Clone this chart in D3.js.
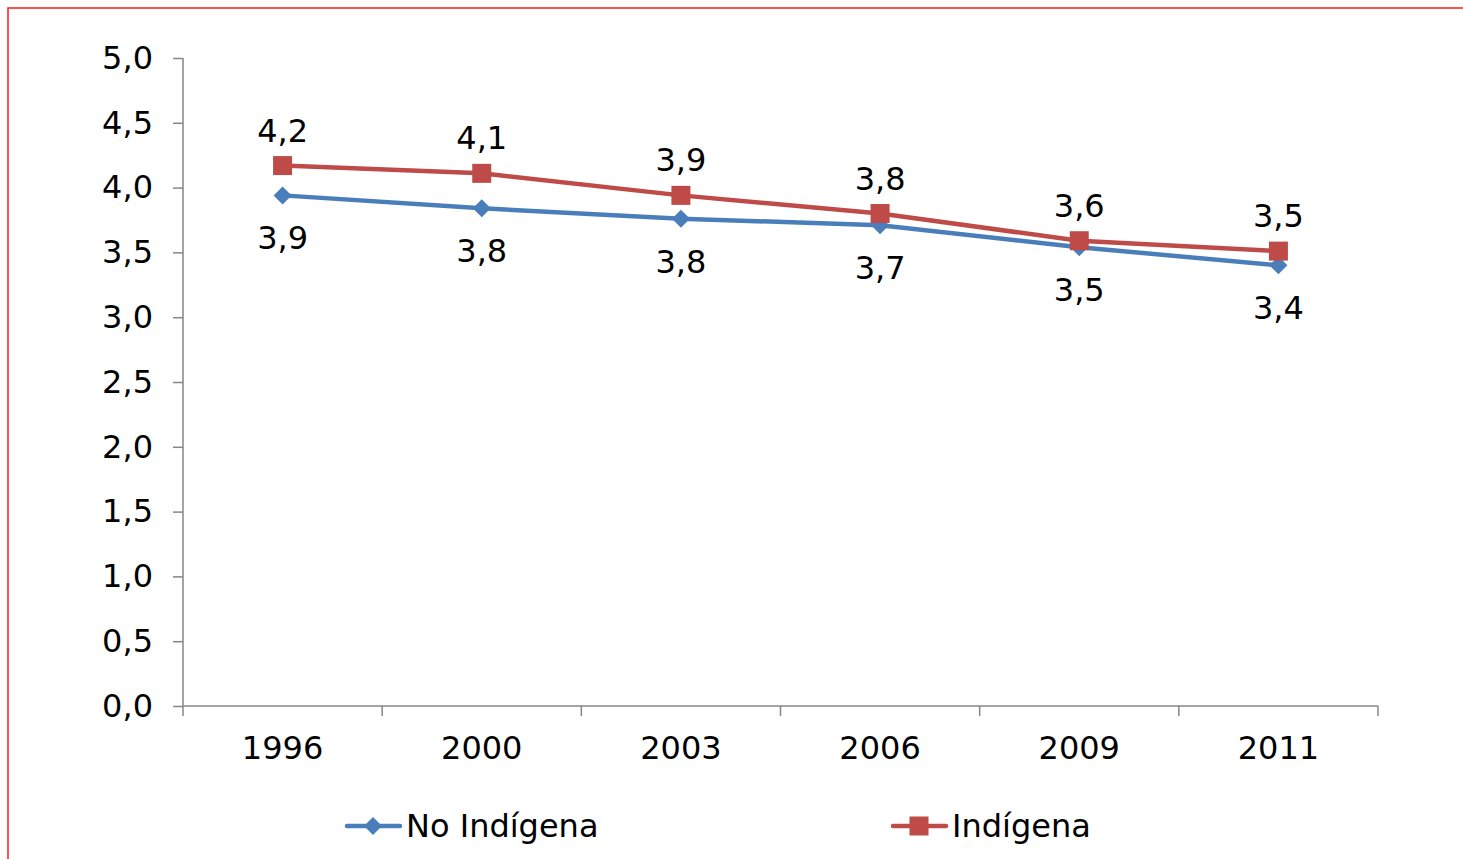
<!DOCTYPE html>
<html><head><meta charset="utf-8">
<script src="https://cdn.jsdelivr.net/npm/d3@7"></script>
<style>body{margin:0;background:#fff;}svg{display:block;font-family:"DejaVu Sans",Verdana,sans-serif;}</style>
</head><body>
<svg id="c" width="1463" height="859"></svg>
<script>
const categories = ["1996","2000","2003","2006","2009","2011"];
const noIndigena = [3.94, 3.84, 3.76, 3.71, 3.54, 3.40];
const indigena = [4.17, 4.11, 3.94, 3.80, 3.59, 3.51];
const yTicks = [0,0.5,1,1.5,2,2.5,3,3.5,4,4.5,5];
const seriesNames = ["No Indígena","Indígena"];
const colors = ["#4A7EBB","#BE4B48"];
const FS = 32;

const svg = d3.select("#c");
svg.append("rect").attr("x",10).attr("y",10).attr("width",1500).attr("height",900)
  .attr("fill","none").attr("stroke","#e6e6e6").attr("stroke-width",4);
svg.append("rect").attr("x",8).attr("y",8).attr("width",1500).attr("height",900)
  .attr("fill","#fff").attr("stroke","#ff1a1a").attr("stroke-width",1.5);

const x = d3.scaleBand().domain(categories).range([183,1378]);
const y = d3.scaleLinear().domain([0,5]).range([706,58]);
const fmt = v => d3.format(".1f")(v).replace(".",",");

const yAxis = svg.append("g").attr("transform","translate(183,0)")
  .call(d3.axisLeft(y).tickValues(yTicks).tickFormat(fmt).tickSize(10).tickPadding(20));
const xAxis = svg.append("g").attr("transform","translate(0,706)")
  .call(d3.axisBottom(x).tickSize(0).tickPadding(30));
[yAxis,xAxis].forEach(a=>{
  a.selectAll("path,line").attr("stroke","#868686").attr("stroke-width",1.5);
  a.selectAll("text").attr("font-size",FS).attr("fill","#000").attr("font-family","'DejaVu Sans',Verdana,sans-serif");
});
yAxis.select(".domain").attr("d","M0,58V706");
const bounds = categories.map(c=>x(c)).concat([x.range()[1]]);
svg.append("g").selectAll("line").data(bounds).join("line")
  .attr("x1",d=>d).attr("x2",d=>d).attr("y1",706).attr("y2",716)
  .attr("stroke","#868686").attr("stroke-width",1.5);
xAxis.select(".domain").attr("d","M183,0H1378");

const cx = c => x(c)+x.bandwidth()/2;
const line = d3.line().x((d,i)=>cx(categories[i])).y(d=>y(d));
const diamond = "M0,-9L9,0L0,9L-9,0Z";

[noIndigena, indigena].forEach((vals,si)=>{
  svg.append("path").datum(vals).attr("d",line).attr("fill","none")
    .attr("stroke",colors[si]).attr("stroke-width",4.5).attr("stroke-linejoin","round");
});
svg.append("g").selectAll("path").data(noIndigena).join("path")
  .attr("d",diamond)
  .attr("transform",(d,i)=>`translate(${cx(categories[i])},${y(d)})`)
  .attr("fill",colors[0]);
svg.append("g").selectAll("rect").data(indigena).join("rect")
  .attr("x",(d,i)=>cx(categories[i])-9.5).attr("y",d=>y(d)-9.5)
  .attr("width",19).attr("height",19).attr("fill",colors[1]);

svg.append("g").selectAll("text").data(noIndigena).join("text")
  .attr("x",(d,i)=>cx(categories[i])).attr("y",d=>y(d)+54)
  .attr("text-anchor","middle").attr("font-size",FS).text(d=>fmt(d));
svg.append("g").selectAll("text").data(indigena).join("text")
  .attr("x",(d,i)=>cx(categories[i])).attr("y",d=>y(d)-24)
  .attr("text-anchor","middle").attr("font-size",FS).text(d=>fmt(d));

const legX = [347, 893];
seriesNames.forEach((n,si)=>{
  const g = svg.append("g").attr("transform",`translate(${legX[si]},826)`);
  g.append("line").attr("x1",0).attr("x2",53).attr("y1",0).attr("y2",0)
    .attr("stroke",colors[si]).attr("stroke-width",4.5).attr("stroke-linecap","round");
  if(si===0){
    g.append("path").attr("d",diamond).attr("transform","translate(26,0)").attr("fill",colors[0]);
  } else {
    g.append("rect").attr("x",16.5).attr("y",-9.5).attr("width",19).attr("height",19).attr("fill",colors[1]);
  }
  g.append("text").attr("x",59).attr("y",11).attr("font-size",FS).text(n);
});
</script>
</body></html>
